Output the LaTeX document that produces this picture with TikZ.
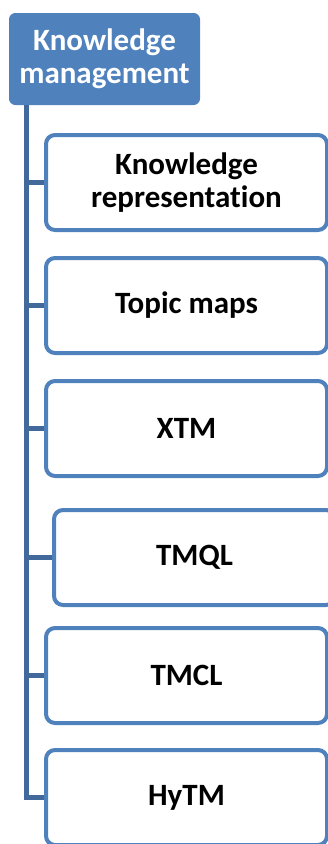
\documentclass[tikz,border=0pt]{standalone}
\usepackage{fontspec}
\setmainfont[Ligatures=NoCommon]{Carlito}
\usetikzlibrary{positioning}

\definecolor{kmblue}{HTML}{4F81BD}
\definecolor{kmdark}{HTML}{41699B}

\tikzstyle{rootbox} = [draw=kmblue, fill=kmblue, rectangle, rounded corners=6pt, line width=1pt,
  minimum width=190pt, minimum height=91pt, text=white, align=center,
  font=\fontsize{31}{33}\selectfont\bfseries]
\tikzstyle{leaf} = [draw=kmblue, fill=white, rectangle, rounded corners=9pt, line width=4pt,
  minimum width=281pt, minimum height=95pt, align=center,
  font=\fontsize{31}{33}\selectfont\bfseries]
\tikzstyle{branch} = [draw=kmdark, line width=5pt]

\begin{document}
\begin{tikzpicture}[node distance=123pt]
  \useasboundingbox (0,0) rectangle (328pt,-844pt);
  \node [rootbox] (km) at (104.5pt,-59pt) {Knowledge\\management};
  \coordinate (trunk) at ([xshift=-78.5pt]km.south);
  \node [leaf] (kr) at (186.5pt,-182.5pt) {Knowledge\\representation};
  \node [leaf, below of=kr] (tm) {Topic maps};
  \node [leaf, below of=tm] (xtm) {XTM};
  \node [leaf, below of=xtm, node distance=129pt, xshift=8pt] (tmql) {TMQL};
  \node [leaf, below of=tmql, node distance=118pt, xshift=-8pt] (tmcl) {TMCL};
  \node [leaf, below of=tmcl, node distance=122pt] (hytm) {HyTM};

  \foreach \leafname in {kr,tm,xtm,tmql,tmcl,hytm}
    \draw [branch] (trunk) |- (\leafname.west);
\end{tikzpicture}
\end{document}
